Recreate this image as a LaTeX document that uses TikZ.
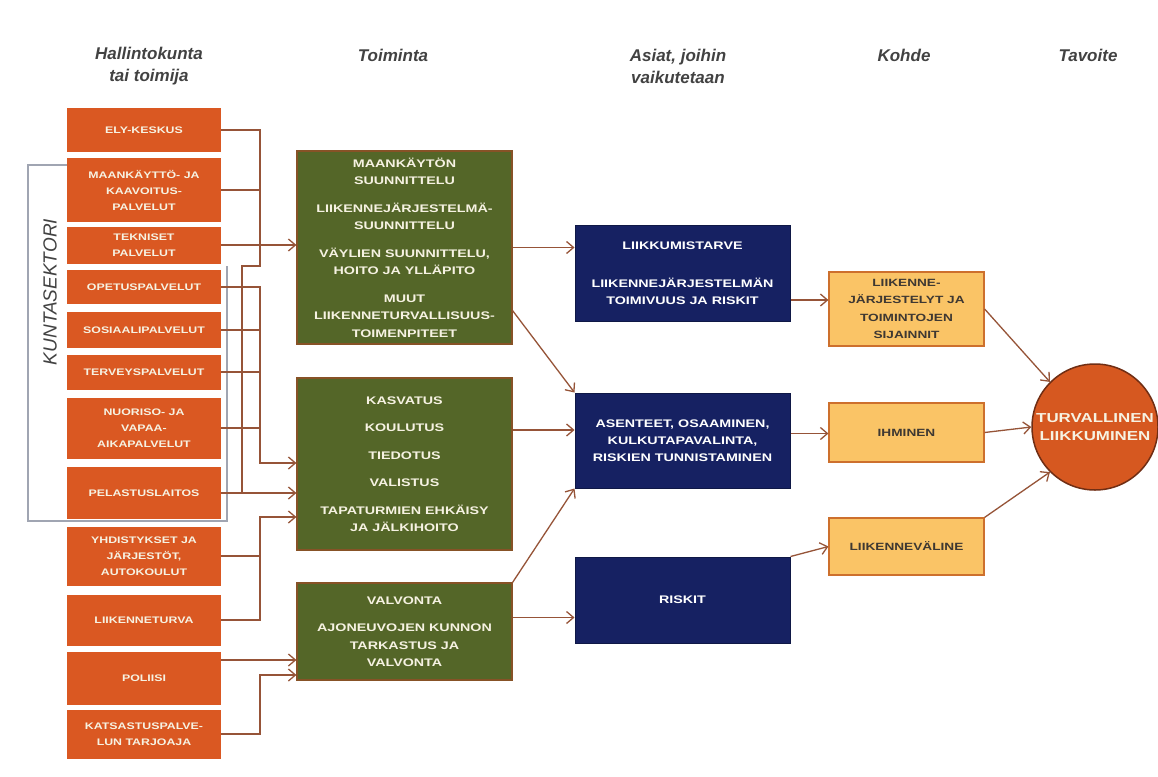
\documentclass[tikz,border=0pt]{standalone}
\usepackage{fontspec}
\setmainfont{Liberation Sans}
\newfontfamily\boxfont[FakeStretch=1.3]{Liberation Sans}
\usepackage{tikz}
\usetikzlibrary{arrows.meta}

\definecolor{orgfill}{RGB}{218,88,34}
\definecolor{grnfill}{RGB}{84,102,40}
\definecolor{grnedge}{RGB}{135,82,38}
\definecolor{blufill}{RGB}{22,33,98}
\definecolor{bluedge}{RGB}{15,24,70}
\definecolor{ylwfill}{RGB}{250,196,102}
\definecolor{ylwedge}{RGB}{205,112,45}
\definecolor{goalfill}{RGB}{214,88,32}
\definecolor{goaledge}{RGB}{112,46,20}
\definecolor{boxtxt}{RGB}{246,242,226}
\definecolor{ylwtxt}{RGB}{62,56,50}
\definecolor{hdrcol}{RGB}{66,66,66}
\definecolor{linkcol}{RGB}{150,84,56}
\definecolor{brackcol}{RGB}{160,165,178}

\begin{document}
\begin{tikzpicture}[x=1pt,y=-1pt]
\tikzstyle{every node}+=[inner sep=0pt]
\tikzstyle{hdr}=[text=hdrcol, align=center, font=\bfseries\itshape\fontsize{17}{22}\selectfont]
\tikzstyle{orgbox}=[fill=orgfill, text=boxtxt, minimum width=154pt, align=center, font=\boxfont\bfseries\fontsize{9.5}{16}\selectfont]
\tikzstyle{grnbox}=[fill=grnfill, draw=grnedge, line width=1.2pt, text=boxtxt, minimum width=215pt, align=center, font=\boxfont\bfseries\fontsize{11}{17.5}\selectfont]
\tikzstyle{blubox}=[fill=blufill, draw=bluedge, line width=1pt, text=white, minimum width=215pt, align=center, font=\boxfont\bfseries\fontsize{11}{17}\selectfont]
\tikzstyle{ylwbox}=[fill=ylwfill, draw=ylwedge, line width=1.2pt, text=ylwtxt, minimum width=155pt, align=center, font=\boxfont\bfseries\fontsize{10.5}{17.5}\selectfont]
\tikzstyle{goalcirc}=[circle, fill=goalfill, draw=goaledge, line width=1.5pt, minimum size=126pt, text=boxtxt, align=center, font=\boxfont\bfseries\fontsize{13}{18}\selectfont]
\tikzstyle{link}=[draw=linkcol, line width=1.3pt]
\tikzstyle{arr}=[link, -{Straight Barb[length=7pt,width=12pt]}]
\tikzstyle{bracket}=[draw=brackcol, line width=1.2pt]

\useasboundingbox (0,0) rectangle (1158,776);
\fill[white] (0,0) rectangle (1158,776);

\node[hdr] (hHallinto) at (149,66) {Hallintokunta\\tai toimija};
\node[hdr] (hToiminta) at (393,55) {Toiminta};
\node[hdr] (hAsiat) at (678,66) {Asiat, joihin\\vaikutetaan};
\node[hdr] (hKohde) at (904,55) {Kohde};
\node[hdr] (hTavoite) at (1088,55) {Tavoite};

\draw[bracket] (67,165) -- (28,165) -- (28,521) -- (227,521) -- (227,266);
\node[rotate=90, text=hdrcol, font=\itshape\fontsize{19}{22}\selectfont] (kunta) at (50,292) {KUNTASEKTORI};

\node[orgbox, minimum height=44pt] (ely) at (144,130) {ELY-KESKUS};
\node[orgbox, minimum height=64pt] (kaava) at (144,190) {MAANKÄYTTÖ- JA\\KAAVOITUS-\\PALVELUT};
\node[orgbox, minimum height=37pt] (tekn) at (144,245) {TEKNISET\\PALVELUT};
\node[orgbox, minimum height=34pt] (opetus) at (144,287) {OPETUSPALVELUT};
\node[orgbox, minimum height=36pt] (sosiaali) at (144,330) {SOSIAALIPALVELUT};
\node[orgbox, minimum height=35pt] (terveys) at (144,372) {TERVEYSPALVELUT};
\node[orgbox, minimum height=61pt] (nuoriso) at (144,428) {NUORISO- JA\\VAPAA-\\AIKAPALVELUT};
\node[orgbox, minimum height=52pt] (pelastus) at (144,493) {PELASTUSLAITOS};
\node[orgbox, minimum height=59pt] (yhdist) at (144,556) {YHDISTYKSET JA\\JÄRJESTÖT,\\AUTOKOULUT};
\node[orgbox, minimum height=51pt] (liiketurva) at (144,620) {LIIKENNETURVA};
\node[orgbox, minimum height=53pt] (poliisi) at (144,678) {POLIISI};
\node[orgbox, minimum height=49pt] (katsastus) at (144,734) {KATSASTUSPALVE-\\LUN TARJOAJA};

\node[grnbox, minimum height=193pt] (suunn) at (404.5,247.5) {MAANKÄYTÖN\\SUUNNITTELU\\[10pt]LIIKENNEJÄRJESTELMÄ-\\SUUNNITTELU\\[10pt]VÄYLIEN SUUNNITTELU,\\HOITO JA YLLÄPITO\\[10pt]MUUT\\LIIKENNETURVALLISUUS-\\TOIMENPITEET};
\node[grnbox, minimum height=172pt] (kasvatus) at (404.5,464) {KASVATUS\\[10pt]KOULUTUS\\[10pt]TIEDOTUS\\[10pt]VALISTUS\\[10pt]TAPATURMIEN EHKÄISY\\JA JÄLKIHOITO};
\node[grnbox, minimum height=97pt] (valvonta) at (404.5,631.5) {VALVONTA\\[10pt]AJONEUVOJEN KUNNON\\TARKASTUS JA\\VALVONTA};

\node[blubox, minimum height=96pt] (tarve) at (682.5,273) {LIIKKUMISTARVE\\[21pt]LIIKENNEJÄRJESTELMÄN\\TOIMIVUUS JA RISKIT};
\node[blubox, minimum height=95pt] (asenteet) at (682.5,440.5) {ASENTEET, OSAAMINEN,\\KULKUTAPAVALINTA,\\RISKIEN TUNNISTAMINEN};
\node[blubox, minimum height=86pt] (riskit) at (682.5,600) {RISKIT};

\node[ylwbox, minimum height=74pt] (jarjest) at (906.5,309) {LIIKENNE-\\JÄRJESTELYT JA\\TOIMINTOJEN\\SIJAINNIT};
\node[ylwbox, minimum height=59pt] (ihminen) at (906.5,432.5) {IHMINEN};
\node[ylwbox, minimum height=57pt] (valine) at (906.5,546.5) {LIIKENNEVÄLINE};

\node[goalcirc] (tavoite) at (1095,427) {TURVALLINEN\\LIIKKUMINEN};

\coordinate (jA) at (260,266);
\coordinate (jB) at (242,266);
\coordinate (jC) at (260,463);
\coordinate (jD) at (260,517);
\coordinate (jE) at (260,675);

\draw[link] (ely.east) -| (jA) -- (jB) -- (jB |- pelastus.east);
\draw[link] (kaava.east) -- (kaava.east -| jA);
\draw[arr] (tekn.east) -- (tekn.east -| suunn.west);
\draw[arr] (opetus.east) -| (jC) -- (jC -| kasvatus.west);
\draw[link] (sosiaali.east) -- (sosiaali.east -| jC);
\draw[link] (terveys.east) -- (terveys.east -| jC);
\draw[link] (nuoriso.east) -- (nuoriso.east -| jC);
\draw[arr] (pelastus.east) -- (pelastus.east -| kasvatus.west);
\draw[arr] (liiketurva.east) -| (jD) -- (jD -| kasvatus.west);
\draw[link] (yhdist.east) -- (yhdist.east -| jD);
\draw[arr] ([yshift=18pt]poliisi.east) -- ([yshift=18pt]poliisi.east -| valvonta.west);
\draw[arr] (katsastus.east) -| (jE) -- (jE -| valvonta.west);

\draw[arr] (suunn.east) -- (suunn.east -| tarve.west);
\draw[arr] ([yshift=34pt]suunn.south east) -- (asenteet.north west);
\draw[arr] ([yshift=34pt]kasvatus.east) -- ([yshift=34pt]kasvatus.east -| asenteet.west);
\draw[arr] (valvonta.north east) -- (asenteet.south west);
\draw[arr] ([yshift=14pt]valvonta.east) -- ([yshift=14pt]valvonta.east -| riskit.west);

\draw[arr] ([yshift=-27pt]tarve.east) -- ([yshift=-27pt]tarve.east -| jarjest.west);
\draw[arr] ([yshift=7pt]asenteet.east) -- ([yshift=7pt]asenteet.east -| ihminen.west);
\draw[arr] (riskit.north east) -- (valine.west);

\draw[arr] (jarjest.east) -- (tavoite.135);
\draw[arr] (ihminen.east) -- (tavoite.west);
\draw[arr] (valine.north east) -- (tavoite.225);
\end{tikzpicture}
\end{document}
